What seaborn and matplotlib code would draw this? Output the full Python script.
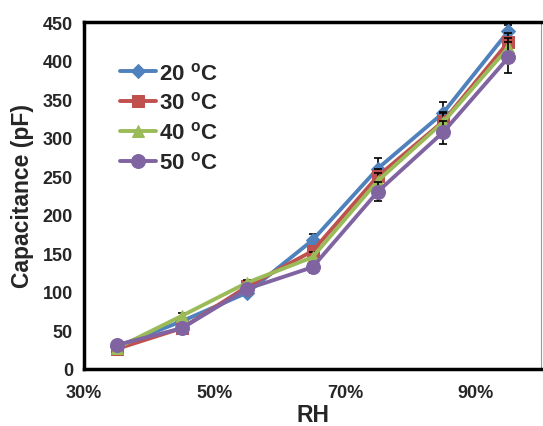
import matplotlib
matplotlib.use("Agg")
import matplotlib.pyplot as plt
import seaborn as sns
import numpy as np
from matplotlib.ticker import FuncFormatter

rh = [35, 45, 55, 65, 75, 85, 95]
series_names = ["20 $^{\\mathregular{o}}$C", "30 $^{\\mathregular{o}}$C",
                "40 $^{\\mathregular{o}}$C", "50 $^{\\mathregular{o}}$C"]
cap_20 = [29, 62, 99, 167, 260, 332, 438]
cap_30 = [26, 53, 107, 153, 250, 321, 424]
cap_40 = [27, 69, 112, 145, 244, 320, 417]
cap_50 = [31, 53, 104, 132, 230, 307, 404]
err_20 = [2, 3, 4, 8, 13, 14, 8]
err_30 = [2, 3, 4, 7, 10, 12, 12]
err_40 = [2, 3, 4, 7, 10, 12, 12]
err_50 = [2, 3, 4, 7, 12, 15, 20]
x_ticks = [30, 50, 70, 90]
y_ticks = [0, 50, 100, 150, 200, 250, 300, 350, 400, 450]

sns.set_theme(style="white")
plt.rcParams['font.family'] = ['Liberation Sans', 'DejaVu Sans']
plt.rcParams['font.weight'] = 'bold'
plt.rcParams['mathtext.default'] = 'regular'

colors = ["#4F81BD", "#C0504D", "#9BBB59", "#8064A2"]
markers = ["D", "s", "^", "o"]
msizes = [7, 8, 9, 10]
values = [cap_20, cap_30, cap_40, cap_50]
errs = [err_20, err_30, err_40, err_50]

fig = plt.figure(figsize=(5.43, 4.27), dpi=100)
ax = fig.add_axes([84/543, 57/427, 457/543, 347/427])

for i in range(4):
    ax.errorbar(rh, values[i], yerr=errs[i], fmt='none', ecolor='black',
                elinewidth=1.2, capsize=3, capthick=1.2, zorder=2 + i * 2)
    sns.lineplot(x=rh, y=values[i], ax=ax, color=colors[i], marker=markers[i],
                 markersize=msizes[i], markeredgecolor=colors[i], linewidth=2.8,
                 label=series_names[i], zorder=3 + i * 2)

ax.set_xlim(30, 100)
ax.set_ylim(0, 450)
ax.set_xticks(x_ticks)
ax.set_yticks(y_ticks)
ax.xaxis.set_major_formatter(FuncFormatter(lambda v, p: f"{v:.0f}%"))
ax.tick_params(axis='both', direction='in', length=4, width=2.5, color='black',
               labelsize=13, pad=8)
ax.tick_params(axis='x', pad=11)
for lab in ax.get_xticklabels() + ax.get_yticklabels():
    lab.set_fontweight('bold')

for side in ['left', 'bottom', 'top']:
    ax.spines[side].set_linewidth(2.5)
    ax.spines[side].set_color('black')
ax.spines['right'].set_linewidth(0.8)
ax.spines['right'].set_color('#999999')

ax.set_xlabel("RH", fontsize=16.5, fontweight='bold', labelpad=1)
ax.set_ylabel("Capacitance (pF)", fontsize=16.5, fontweight='bold', labelpad=6)

leg = ax.legend(loc='upper left', bbox_to_anchor=(0.06, 0.91), frameon=False,
                fontsize=16, handlelength=1.6, handletextpad=0.15,
                labelspacing=0.35, borderaxespad=0)
for t in leg.get_texts():
    t.set_fontweight('bold')

fig.savefig("out.png", dpi=100)
